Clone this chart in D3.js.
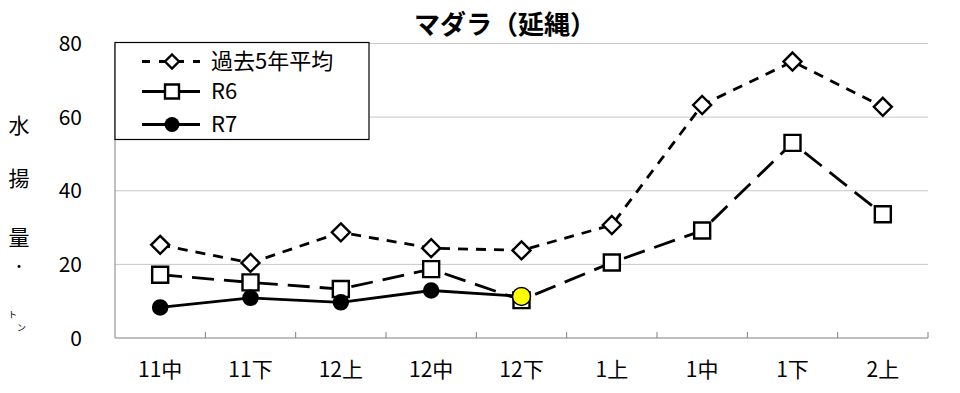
<!DOCTYPE html>
<html>
<head>
<meta charset="utf-8">
<script src="https://cdn.jsdelivr.net/npm/d3@7"></script>
<style>
  body { margin: 0; background: #fff; }
  text { font-family: "Noto Sans CJK JP", "Noto Sans", sans-serif; fill: #000; }
</style>
</head>
<body>
<svg id="chart" width="960" height="393"></svg>
<script>
const categories = ['11中', '11下', '12上', '12中', '12下', '1上', '1中', '1下', '2上'];
const avg5 = [25.3, 20.4, 28.7, 24.4, 23.8, 30.7, 63.3, 75.1, 62.8];
const r6 = [17.2, 15.1, 13.3, 18.7, 10.3, 20.5, 29.2, 53.0, 33.6];
const r7 = [8.3, 10.9, 9.7, 12.9, 11.3];
const yTicks = [0, 20, 40, 60, 80];
const yLabel = ['水', '揚', '量'];

const margin = {top: 43.5, right: 32, bottom: 55, left: 115};
const width = 960 - margin.left - margin.right;
const height = 393 - margin.top - margin.bottom;

const svg = d3.select('#chart');
const g = svg.append('g').attr('transform', `translate(${margin.left},${margin.top})`);

const x = d3.scaleBand().domain(categories).range([0, width]);
const y = d3.scaleLinear().domain([0, 80]).range([height, 0]);
const cx = (d, i) => x(categories[i]) + x.bandwidth() / 2;

// grid
g.selectAll('.grid').data(yTicks.filter(t => t > 0)).join('line')
    .attr('x1', 0).attr('x2', width)
    .attr('y1', d => y(d)).attr('y2', d => y(d))
    .attr('stroke', '#c8c8c8').attr('stroke-width', 1);

// axes
g.append('line').attr('x1', 0).attr('x2', 0).attr('y1', 0).attr('y2', height)
    .attr('stroke', '#808080');
g.append('line').attr('x1', 0).attr('x2', width).attr('y1', height).attr('y2', height)
    .attr('stroke', '#808080');
g.selectAll('.xtick').data(d3.range(1, categories.length + 1)).join('line')
    .attr('x1', i => i * x.bandwidth()).attr('x2', i => i * x.bandwidth())
    .attr('y1', height).attr('y2', height - 6)
    .attr('stroke', '#808080');

g.selectAll('.ylab').data(yTicks).join('text')
    .attr('x', -33).attr('y', d => y(d)).attr('dy', '0.36em')
    .attr('text-anchor', 'end').style('font-size', '21px')
    .text(d => d);

g.selectAll('.xlab').data(categories).join('text')
    .attr('x', (d, i) => cx(d, i)).attr('y', height + 39)
    .attr('text-anchor', 'middle').style('font-size', '21px')
    .text(d => d);

// title
svg.append('text').attr('x', 505).attr('y', 34).attr('text-anchor', 'middle')
    .style('font-size', '26px').style('font-weight', 'bold')
    .text('マダラ（延縄）');

// y label
const ylabY = [125, 178, 237];
svg.selectAll('.yl').data(yLabel).join('text')
    .attr('x', 19).attr('y', (d, i) => ylabY[i]).attr('dy', '0.36em')
    .attr('text-anchor', 'middle').style('font-size', '21px')
    .text(d => d);
svg.append('text').attr('x', 19).attr('y', 266).attr('dy', '0.36em')
    .attr('text-anchor', 'middle').style('font-size', '14px').text('・');
svg.append('text').attr('x', 8).attr('y', 318).style('font-size', '9px').text('ト');
svg.append('text').attr('x', 17).attr('y', 331).style('font-size', '9px').text('ン');

const line = d3.line().x((d, i) => cx(d, i)).y(d => y(d));

function drawSeries(data, dash) {
  g.append('path').datum(data).attr('d', line)
      .attr('fill', 'none').attr('stroke', '#000').attr('stroke-width', 2.8)
      .attr('stroke-dasharray', dash);
}
drawSeries(avg5, '10,8');
drawSeries(r6, '22,10');
drawSeries(r7, null);

const diamond = s => `M0,${-s}L${s},0L0,${s}L${-s},0Z`;

function markers(data, type) {
  const sel = g.selectAll('.m-' + type).data(data).join(type === 'circle' ? 'circle' : 'path');
  if (type === 'diamond') {
    sel.attr('d', diamond(9)).attr('transform', (d, i) => `translate(${cx(d, i)},${y(d)})`)
        .attr('fill', '#fff').attr('stroke', '#000').attr('stroke-width', 2.4);
  } else if (type === 'square') {
    sel.attr('d', 'M-8,-8H8V8H-8Z').attr('transform', (d, i) => `translate(${cx(d, i)},${y(d)})`)
        .attr('fill', '#fff').attr('stroke', '#000').attr('stroke-width', 2.4);
  } else {
    sel.attr('cx', (d, i) => cx(d, i)).attr('cy', d => y(d))
        .attr('r', (d, i) => i === data.length - 1 ? 9 : 7.5)
        .attr('fill', (d, i) => i === data.length - 1 ? '#ffff00' : '#000')
        .attr('stroke', '#000').attr('stroke-width', 1.5);
  }
}
markers(avg5, 'diamond');
markers(r6, 'square');
markers(r7, 'circle');

// legend
const lg = svg.append('g').attr('transform', 'translate(115,42.5)');
lg.append('rect').attr('width', 254).attr('height', 97)
    .attr('fill', '#fff').attr('stroke', '#000').attr('stroke-width', 1.2);
const legendItems = [
  {name: '過去5年平均', dash: '8,9', type: 'diamond', y: 19},
  {name: 'R6', dash: null, type: 'square', y: 49},
  {name: 'R7', dash: null, type: 'circle', y: 82}
];
legendItems.forEach(it => {
  lg.append('line').attr('x1', 27).attr('x2', 85).attr('y1', it.y).attr('y2', it.y)
      .attr('stroke', '#000').attr('stroke-width', 2.8).attr('stroke-dasharray', it.dash);
  if (it.type === 'diamond') {
    lg.append('path').attr('d', diamond(7)).attr('transform', `translate(57,${it.y})`)
        .attr('fill', '#fff').attr('stroke', '#000').attr('stroke-width', 2.4);
  } else if (it.type === 'square') {
    lg.append('path').attr('d', 'M-7,-7H7V7H-7Z').attr('transform', `translate(57,${it.y})`)
        .attr('fill', '#fff').attr('stroke', '#000').attr('stroke-width', 2.4);
  } else {
    lg.append('circle').attr('cx', 57).attr('cy', it.y).attr('r', 7.5).attr('fill', '#000');
  }
  lg.append('text').attr('x', 96).attr('y', it.y).attr('dy', '0.36em')
      .style('font-size', '22px').text(it.name);
});
</script>
</body>
</html>
